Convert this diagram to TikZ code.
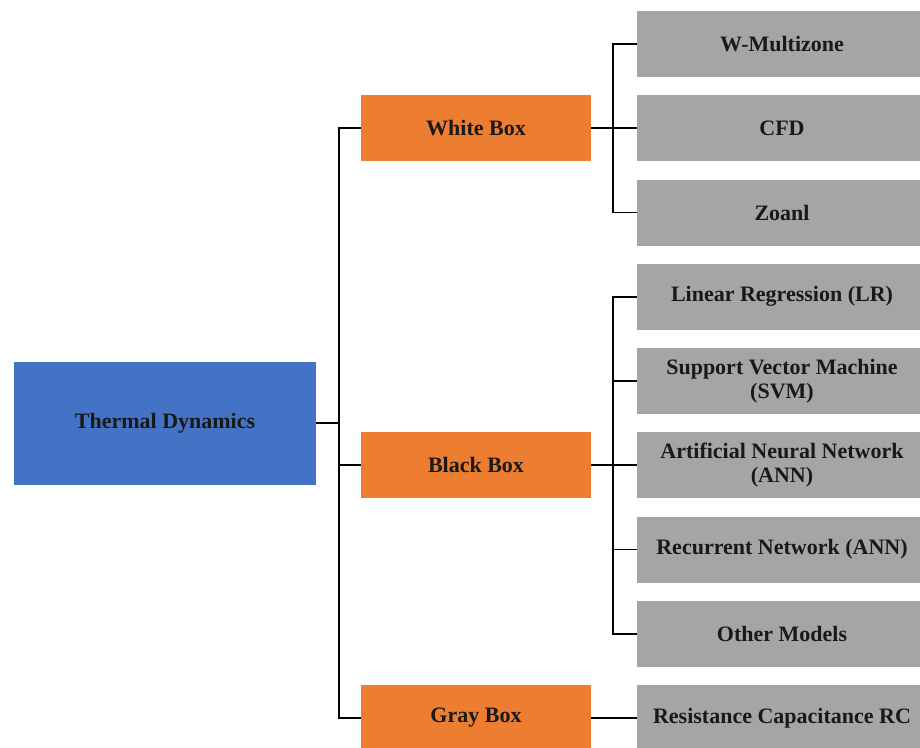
\documentclass[tikz,border=0pt]{standalone}
\usepackage{fontspec}
\setmainfont{Liberation Serif}
\usetikzlibrary{positioning}

\definecolor{rootblue}{HTML}{4472C4}
\definecolor{branchorange}{HTML}{ED7D31}
\definecolor{leafgray}{HTML}{A5A5A5}

\begin{document}
\begin{tikzpicture}[x=1pt, y=-1pt,
  box/.style={inner sep=0pt, align=center, text=black!90,
    font=\fontsize{22}{24}\selectfont\bfseries},
  rootbox/.style={box, fill=rootblue, minimum width=302pt, minimum height=123pt},
  branchbox/.style={box, fill=branchorange, minimum width=230pt, minimum height=66pt},
  leafbox/.style={box, fill=leafgray, minimum width=290pt, minimum height=66pt},
  link/.style={draw=black, line width=1.6pt}]

\useasboundingbox (0,0) rectangle (920,747);

% root and the three model families
\node[rootbox] (thermal) at (165,423) {Thermal Dynamics};
\node[branchbox] (white) at (476,128) {White Box};
\node[branchbox] (black) at (476,465) {Black Box};
\node[branchbox] (gray) at (476,718) {Gray Box};

% leaves, one row every 84.25
\foreach \name/\txt [count=\i] in {wmz/{W-Multizone}, cfd/{CFD}, zon/{Zoanl},
    lr/{Linear Regression (LR)}, svm/{Support Vector Machine\\(SVM)},
    ann/{Artificial Neural Network\\(ANN)}, rnn/{Recurrent Network (ANN)},
    oth/{Other Models}, rc/{Resistance Capacitance RC}}
  \node[leafbox] (\name) at (782,{44+84.25*(\i-1)}) {\txt};

\coordinate (trunk) at (339,0);
\coordinate (wtrunk) at (613,0);
\coordinate (btrunk) at (613,0);

% root to families
\draw[link] (thermal.east) -- (thermal.east -| trunk);
\draw[link] (white.west) -- (white.west -| trunk) -- (gray.west -| trunk) -- (gray.west);
\draw[link] (black.west) -- (black.west -| trunk);

% white box leaves
\draw[link] (white.east) -- (white.east -| wtrunk);
\draw[link] (wmz.west) -- (wmz.west -| wtrunk) -- (zon.west -| wtrunk) -- (zon.west);
\draw[link] (cfd.west) -- (cfd.west -| wtrunk);

% black box leaves
\draw[link] (black.east) -- (black.east -| btrunk);
\draw[link] (lr.west) -- (lr.west -| btrunk) -- (oth.west -| btrunk) -- (oth.west);
\foreach \leaf in {svm,ann,rnn}
  \draw[link] (\leaf.west) -- (\leaf.west -| btrunk);

% gray box leaf
\draw[link] (gray.east) -- (rc.west);

\end{tikzpicture}
\end{document}
